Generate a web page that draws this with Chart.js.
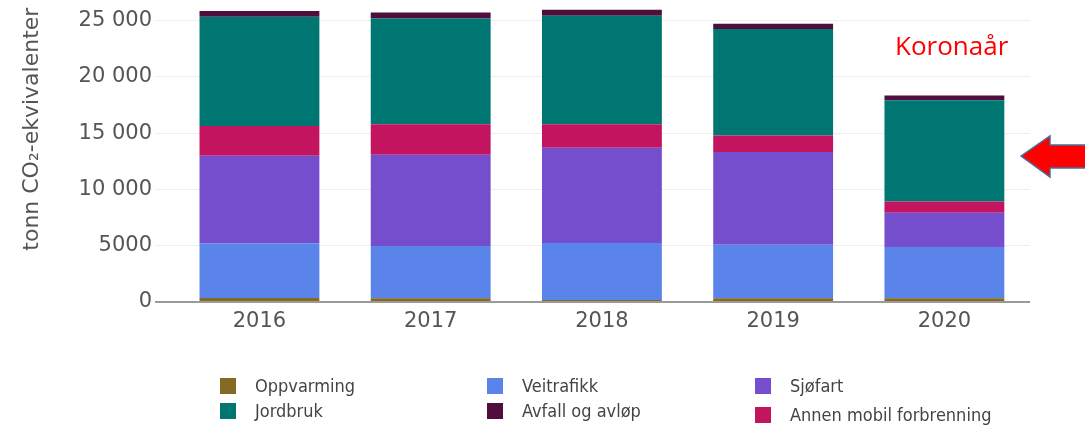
<!DOCTYPE html>
<html>
<head>
<meta charset="utf-8">
<script src="https://cdn.jsdelivr.net/npm/chart.js@4.4.1/dist/chart.umd.min.js"></script>
<style>
    html, body { margin: 0; padding: 0; background: #fff; }
    #wrap { position: relative; width: 1085px; height: 425px; overflow: hidden; }
    #chart { position: absolute; left: 0; top: -8px; }
    #korona { position: absolute; left: 895px; top: 32px; font-family: "Open Sans", sans-serif; font-size: 26px; color: #ff0000; line-height: 1; }
    #arrow { position: absolute; left: 0; top: 0; }
    .legend-item { position: absolute; font-family: "DejaVu Sans Condensed", "DejaVu Sans", sans-serif; font-size: 18px; color: #444; white-space: nowrap; }
    .legend-item span.box { position: absolute; left: 0; top: 1px; width: 16px; height: 16px; }
    .legend-item span.txt { position: absolute; left: 35px; top: -2px; }
</style>
</head>
<body>
<div id="wrap">
    <canvas id="chart" width="1085" height="433"></canvas>
    <div id="korona">Koronaår</div>
    <svg id="arrow" width="1085" height="425">
        <polygon points="1021,156 1050,136 1050,145 1086,145 1086,168 1050,168 1050,177"
                 fill="#ff0000" stroke="#41719c" stroke-width="1.5"/>
    </svg>
    <div id="legend"></div>
</div>
<script>
// Years and emissions per sector (tonn CO2-ekvivalenter)
const years = [2016, 2017, 2018, 2019, 2020];
const oppvarming = [350, 330, 180, 330, 330];
const veitrafikk = [4860, 4640, 5060, 4760, 4550];
const sjofart = [7770, 8100, 8470, 8240, 3040];
const annenMobil = [2650, 2710, 2070, 1470, 1000];
const jordbruk = [9710, 9410, 9650, 9450, 9000];
const avfall = [510, 530, 530, 470, 420];

const yTicks = [0, 5000, 10000, 15000, 20000, 25000];

// Stacking order, bottom to top
const series = [
    { label: 'Oppvarming', data: oppvarming, color: '#846a22' },
    { label: 'Veitrafikk', data: veitrafikk, color: '#5b84ea' },
    { label: 'Sjøfart', data: sjofart, color: '#754ecd' },
    { label: 'Annen mobil forbrenning', data: annenMobil, color: '#c2145f' },
    { label: 'Jordbruk', data: jordbruk, color: '#007673' },
    { label: 'Avfall og avløp', data: avfall, color: '#4f0f3d' },
];

// Legend grid: label order and position
const legendOrder = ['Oppvarming', 'Veitrafikk', 'Sjøfart', 'Jordbruk', 'Avfall og avløp', 'Annen mobil forbrenning'];
const legendCols = [220, 487, 755];
const legendRows = [377, 402];

function formatNumber(v) {
    const s = String(v);
    if (s.length <= 4) return s;
    return s.replace(/\B(?=(\d{3})+(?!\d))/g, ' ');
}

const ctx = document.getElementById('chart').getContext('2d');
new Chart(ctx, {
    type: 'bar',
    data: {
        datasets: series.map((s) => ({
            label: s.label,
            data: years.map((yr, i) => ({ x: yr, y: s.data[i] })),
            backgroundColor: s.color,
            borderWidth: 0,
            barPercentage: 0.7,
            categoryPercentage: 1,
        })),
    },
    options: {
        responsive: false,
        animation: false,
        layout: { padding: { top: 0, right: 55, left: 0, bottom: 0 } },
        plugins: {
            legend: { display: false },
            tooltip: { enabled: false },
        },
        scales: {
            x: {
                type: 'linear',
                stacked: true,
                offset: false,
                min: 2015.39,
                max: 2020.5,
                grid: { display: false, drawTicks: false },
                border: { display: false },
                ticks: {
                    stepSize: 1,
                    includeBounds: false,
                    padding: 7,
                    color: '#555',
                    font: { family: 'DejaVu Sans', size: 21 },
                    callback: (v) => (Number.isInteger(v) ? String(v) : ''),
                },
                afterFit: (scale) => { scale.height = 123; },
            },
            y: {
                stacked: true,
                min: 0,
                max: 26150,
                grid: {
                    drawTicks: false,
                    color: (c) => (c.tick && c.tick.value === 0 ? '#9a9a9a' : '#eeeeee'),
                    lineWidth: (c) => (c.tick && c.tick.value === 0 ? 2 : 1),
                },
                border: { display: false },
                afterBuildTicks: (scale) => { scale.ticks = yTicks.map((v) => ({ value: v })); },
                ticks: {
                    padding: 3,
                    color: '#555',
                    font: { family: 'DejaVu Sans', size: 21 },
                    callback: (v) => formatNumber(v),
                },
                title: {
                    display: true,
                    text: 'tonn CO₂-ekvivalenter',
                    align: 'end',
                    color: '#555',
                    font: { family: 'DejaVu Sans', size: 22 },
                    padding: { top: 19, bottom: 0 },
                },
                afterFit: (scale) => { scale.width = 155; },
            },
        },
    },
});

// HTML legend in a 3-column grid
const legend = document.getElementById('legend');
legendOrder.forEach((name, i) => {
    const s = series.find((d) => d.label === name);
    const item = document.createElement('div');
    item.className = 'legend-item';
    item.style.left = legendCols[i % 3] + 'px';
    item.style.top = legendRows[Math.floor(i / 3)] + (i === 5 ? 4 : 0) + 'px';
    item.innerHTML = '<span class="box" style="background:' + s.color + '"></span><span class="txt">' + name + '</span>';
    legend.appendChild(item);
});
</script>
</body>
</html>
